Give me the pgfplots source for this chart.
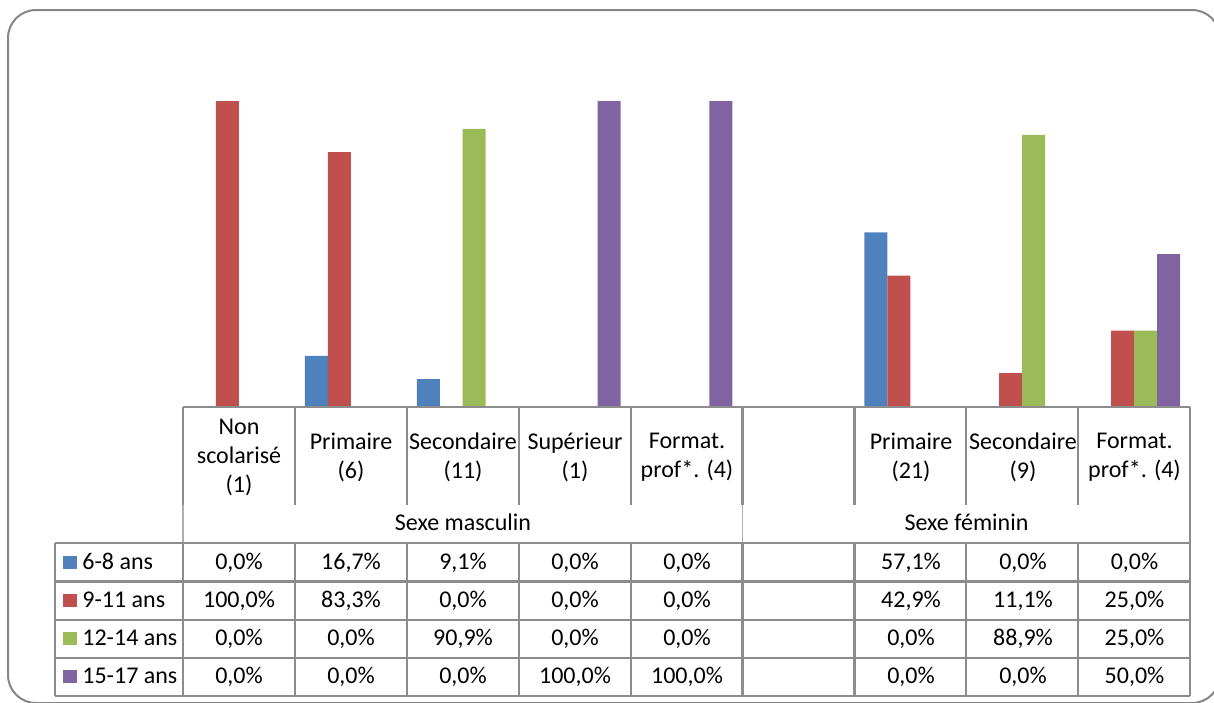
\documentclass[border=0pt]{standalone}
\usepackage{pgfplots}
\usepackage{pgfplotstable}
\pgfplotsset{compat=1.18}
\usepackage{fontspec}
\setmainfont{Carlito}
\definecolor{c1}{HTML}{4F81BD}
\definecolor{c2}{HTML}{C0504D}
\definecolor{c3}{HTML}{9BBB59}
\definecolor{c4}{HTML}{8064A2}
\definecolor{frame}{HTML}{868686}
\definecolor{grid}{HTML}{8C8C8C}
\pgfplotstableread{
x a b c d
0 0 100 0 0
1 16.7 83.3 0 0
2 9.1 0 90.9 0
3 0 0 0 100
4 0 0 0 100
6 57.1 42.9 0 0
7 0 11.1 88.9 0
8 0 25 25 50
}\data
\begin{document}
\begin{tikzpicture}
\begin{axis}[at={(91.5pt,-203.5pt)}, anchor=south west, scale only axis,
  width=503.5pt, height=153pt, xmin=-0.5, xmax=8.5, ymin=0, ymax=100,
  axis lines=none, ybar, bar width=0.2054, bar shift=0pt, clip=false]
\addplot[fill=c1, draw=none] table[x expr=\thisrow{x}-0.308, y=a]{\data};
\addplot[fill=c2, draw=none] table[x expr=\thisrow{x}-0.1027, y=b]{\data};
\addplot[fill=c3, draw=none] table[x expr=\thisrow{x}+0.1027, y=c]{\data};
\addplot[fill=c4, draw=none] table[x expr=\thisrow{x}+0.308, y=d]{\data};
\end{axis}
\begin{scope}[x=0.5pt, y=-0.5pt, font=\fontsize{12}{14.5}\selectfont]
\draw[frame, rounded corners=14pt, line width=1pt] (8,10) rectangle (1220,703);
% category header verticals
\foreach \k in {0,...,9} {
  \draw[grid, line width=1.1pt] ({183+111.9*\k},407) -- ({183+111.9*\k},505);
}
\draw[grid, line width=1.1pt] (183,407) -- (1190,407);
% group row verticals
\draw[grid!70, line width=0.6pt] (183,505) -- (183,543);
\draw[grid!70, line width=0.6pt] (742.5,505) -- (742.5,543);
\draw[grid, line width=1.1pt] (1190,505) -- (1190,543);
% data rows
\foreach \y in {543,581.5,620,658,696} {
  \draw[grid, line width=1.1pt] (55,\y) -- (1190,\y);
}
\draw[grid, line width=1.1pt] (55,543) -- (55,696);
\foreach \k in {0,...,9} {
  \draw[grid, line width=1.1pt] ({183+111.9*\k},543) -- ({183+111.9*\k},696);
}
% category labels
\node[align=center] at (239,457) {Non\\scolarisé\\(1)};
\node[align=center] at (351,457) {Primaire\\(6)};
\node[align=center] at (463,457) {Secondaire\\(11)};
\node[align=center] at (575,457) {Supérieur\\(1)};
\node[align=center] at (687,457) {Format.\\prof*. (4)};
\node[align=center] at (911,457) {Primaire\\(21)};
\node[align=center] at (1023,457) {Secondaire\\(9)};
\node[align=center] at (1134.5,457) {Format.\\prof*. (4)};
\node[anchor=base, inner sep=0pt] at (463,530) {Sexe masculin};
\node[anchor=base, inner sep=0pt] at (966.5,530) {Sexe féminin};
% legend keys and row labels
\fill[c1] (63,556) rectangle (77,569);
\node[anchor=base west, inner sep=0pt] at (82,569) {6-8 ans};
\fill[c2] (63,594) rectangle (77,607);
\node[anchor=base west, inner sep=0pt] at (82,607) {9-11 ans};
\fill[c3] (63,632) rectangle (77,645);
\node[anchor=base west, inner sep=0pt] at (82,645) {12-14 ans};
\fill[c4] (63,670) rectangle (77,683);
\node[anchor=base west, inner sep=0pt] at (82,683) {15-17 ans};
% values
\foreach \x/\v in {239/{0,0\%},351/{16,7\%},463/{9,1\%},575/{0,0\%},687/{0,0\%},911/{57,1\%},1023/{0,0\%},1134.5/{0,0\%}} {\node[anchor=base, inner sep=0pt] at (\x,569) {\v};}
\foreach \x/\v in {239/{100,0\%},351/{83,3\%},463/{0,0\%},575/{0,0\%},687/{0,0\%},911/{42,9\%},1023/{11,1\%},1134.5/{25,0\%}} {\node[anchor=base, inner sep=0pt] at (\x,607) {\v};}
\foreach \x/\v in {239/{0,0\%},351/{0,0\%},463/{90,9\%},575/{0,0\%},687/{0,0\%},911/{0,0\%},1023/{88,9\%},1134.5/{25,0\%}} {\node[anchor=base, inner sep=0pt] at (\x,645) {\v};}
\foreach \x/\v in {239/{0,0\%},351/{0,0\%},463/{0,0\%},575/{100,0\%},687/{100,0\%},911/{0,0\%},1023/{0,0\%},1134.5/{50,0\%}} {\node[anchor=base, inner sep=0pt] at (\x,683) {\v};}
\pgfresetboundingbox
\useasboundingbox (0,0) rectangle (1214,702);
\end{scope}
\end{tikzpicture}
\end{document}
